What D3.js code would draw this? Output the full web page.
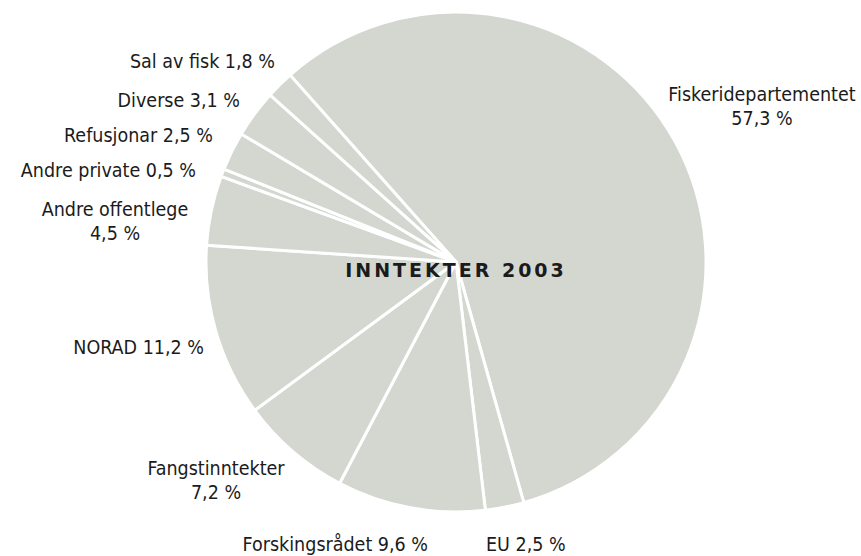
<!DOCTYPE html>
<html>
<head>
<meta charset="utf-8">
<script src="https://cdn.jsdelivr.net/npm/d3@7"></script>
<style>
  body { margin: 0; background: #fff; }
  svg text { font-family: "DejaVu Sans", sans-serif; font-stretch: condensed; fill: #1b1b1b; }
</style>
</head>
<body>
<div id="chart"></div>
<script>
// income 2003, share in percent, clockwise from the top-left
const categories = ["Fiskeridepartementet", "EU", "Forskingsrådet", "Fangstinntekter", "NORAD",
    "Andre offentlege", "Andre private", "Refusjonar", "Diverse", "Sal av fisk"]
const shares = [57.3, 2.5, 9.6, 7.2, 11.2, 4.5, 0.5, 2.5, 3.1, 1.8]
const title = "INNTEKTER 2003"

// where each label sits (layout, not data): x, y of first baseline, anchor, split into two lines
const labelLayout = [
    {x: 762, y: 101, anchor: "middle", split: true},
    {x: 486, y: 551, anchor: "start", split: false},
    {x: 428, y: 551, anchor: "end", split: false},
    {x: 216, y: 475, anchor: "middle", split: true},
    {x: 204, y: 354, anchor: "end", split: false},
    {x: 115, y: 216, anchor: "middle", split: true},
    {x: 196, y: 177, anchor: "end", split: false},
    {x: 213, y: 142, anchor: "end", split: false},
    {x: 240, y: 107, anchor: "end", split: false},
    {x: 275, y: 68, anchor: "end", split: false}
]

const width = 861, height = 556
const cx = 456, cy = 262, radius = 250
const fmt = v => `${d3.format(".1f")(v).replace(".", ",")} %`

const svg = d3.select("#chart").append("svg")
    .attr("width", width)
    .attr("height", height)

const startAngle = -41.6 * Math.PI / 180
const pie = d3.pie()
    .sort(null)
    .startAngle(startAngle)
    .endAngle(startAngle + 2 * Math.PI)
const arc = d3.arc().innerRadius(0).outerRadius(radius)

const data = categories.map((c, i) => ({name: c, value: shares[i], layout: labelLayout[i]}))

svg.append("g")
    .attr("transform", `translate(${cx}, ${cy})`)
    .selectAll("path")
    .data(pie.value(d => d.value)(data))
    .join("path")
        .attr("d", arc)
        .attr("fill", "#d3d7d0")
        .attr("stroke", "#fff")
        .attr("stroke-width", 3)
        .attr("stroke-linejoin", "round")

const labels = svg.append("g")
    .selectAll("text")
    .data(data)
    .join("text")
        .attr("font-size", 19.5)
        .attr("text-anchor", d => d.layout.anchor)
        .attr("x", d => d.layout.x)
        .attr("y", d => d.layout.y)

labels.each(function(d) {
    const t = d3.select(this)
    const lines = d.layout.split ? [d.name, fmt(d.value)] : [`${d.name} ${fmt(d.value)}`]
    lines.forEach((l, i) => t.append("tspan")
        .attr("x", d.layout.x)
        .attr("dy", i ? 24 : 0)
        .text(l))
})

svg.append("text")
    .attr("x", cx)
    .attr("y", 277)
    .attr("text-anchor", "middle")
    .attr("font-size", 19)
    .attr("font-weight", "bold")
    .attr("letter-spacing", 3)
    .style("font-stretch", "normal")
    .text(title)
</script>
</body>
</html>
